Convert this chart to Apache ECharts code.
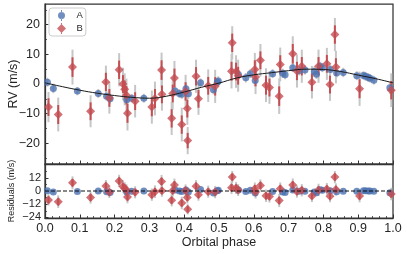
<!DOCTYPE html>
<html><head><meta charset="utf-8">
<script src="https://cdn.jsdelivr.net/npm/echarts@6/dist/echarts.min.js"></script>
<style>html,body{margin:0;padding:0;background:#fff}#c{width:407px;height:254px}</style>
</head><body><div id="c"></div>
<script>
// ---- data ----
const phaseA = [0.007,0.024,0.093,0.153,0.177,0.187,0.235,0.249,0.284,0.374,0.386,0.393,0.405,0.412,0.447,0.484,0.495,0.498,0.556,0.577,0.590,0.604,0.654,0.683,0.690,0.712,0.730,0.747,0.774,0.780,0.791,0.797,0.820,0.838,0.857,0.896,0.915,0.921,0.929,0.934,0.945,0.991];
const rvA    = [0.6,-1.5,-2.4,-3.2,-4.1,-5.0,-5.3,-4.8,-4.8,-2.4,-3.2,-3.5,-1.6,-3.3,0.4,-1.9,0.6,1.0,3.1,2.1,3.5,1.2,3.5,3.6,3.1,5.5,4.5,4.7,4.2,3.3,6.0,5.5,4.9,3.7,3.9,2.8,2.9,2.6,2.2,1.9,1.3,-1.3];
const resA   = [0.3,-1.0,-0.4,0.0,-0.6,-1.3,-1.0,-0.3,-0.1,1.0,-0.1,-0.5,1.0,-0.9,1.3,-1.9,0.3,0.6,1.0,-0.5,0.6,-1.9,-0.5,-0.8,-1.4,0.8,-0.3,-0.3,-0.8,-1.7,1.1,0.6,0.3,-0.6,-0.2,-0.3,0.3,0.2,0.0,-0.1,-0.3,-1.7];
const errA   = [1.5,1.6,1.4,1.5,1.6,1.7,1.5,1.4,1.5,1.6,1.5,1.5,1.6,1.7,1.5,1.6,1.5,1.6,1.5,1.6,1.5,1.8,1.5,1.6,1.5,1.5,1.6,1.5,1.7,1.6,1.5,1.5,1.6,1.5,1.6,1.5,1.4,1.5,1.5,1.4,1.5,2.0];

const phaseB = [0.010,0.038,0.079,0.131,0.175,0.185,0.213,0.224,0.229,0.234,0.237,0.259,0.307,0.316,0.335,0.336,0.364,0.367,0.372,0.393,0.404,0.409,0.410,0.434,0.441,0.469,0.489,0.536,0.538,0.549,0.555,0.603,0.605,0.619,0.635,0.645,0.673,0.676,0.712,0.724,0.738,0.767,0.786,0.810,0.819,0.833,0.836,0.904,0.995];
const rvB    = [-7.8,-10.3,5.7,-9.2,0.7,-4.7,4.8,0.0,-1.8,-3.8,-9.9,-5.8,-7.8,-4.9,4.7,-3.5,-11.6,-3.2,2.0,-13.7,-2.5,-8.3,-19.1,2.6,-5.0,-0.6,-0.8,4.3,13.9,4.2,2.8,4.9,2.4,8.0,-0.4,-1.2,-4.1,6.6,10.2,4.4,6.0,0.6,6.0,6.8,-0.2,16.7,5.7,-1.6,-2.1];
const resB   = [-8.1,-9.7,7.4,-6.0,4.5,-1.1,9.1,4.0,2.6,0.6,-5.4,-1.2,-3.3,-0.6,8.7,0.3,-8.4,0.3,5.5,-10.9,0.4,-5.8,-16.6,4.3,-3.4,-0.6,-1.0,3.0,12.6,2.8,0.9,2.1,-1.0,5.0,-4.3,-5.0,-8.6,2.1,5.5,-0.5,0.7,-4.5,1.0,1.9,-4.7,12.6,1.4,-4.5,-2.7];
const errB   = [5.1,5.7,5.9,5.4,5.5,5.3,5.6,5.5,5.4,5.6,5.8,5.5,5.6,5.7,5.9,5.5,5.6,5.4,5.8,5.7,5.6,5.5,4.6,5.6,5.4,5.5,5.6,5.8,5.6,5.5,5.4,5.6,5.8,5.5,5.7,5.5,6.0,5.7,5.9,5.6,5.6,5.5,5.6,5.4,5.5,5.6,5.5,5.8,5.7];
const errBin = [3.0,3.2,3.3,3.0,3.1,3.0,3.1,3.0,3.0,3.1,3.2,3.0,3.1,3.2,3.3,3.0,3.1,3.0,3.2,3.1,3.1,3.0,2.6,3.1,3.0,3.0,3.1,3.2,3.1,3.0,3.0,3.1,3.2,3.0,3.2,3.0,3.3,3.1,3.3,3.1,3.1,3.0,3.1,3.0,3.0,3.1,3.0,3.2,3.1];

const phaseModel = [0,0.05,0.1,0.15,0.2,0.25,0.3,0.35,0.4,0.45,0.5,0.55,0.6,0.65,0.7,0.75,0.8,0.85,0.9,0.95,1.0];
const rvModel    = [0.4,-0.9,-2.1,-3.1,-3.9,-4.5,-4.8,-4.1,-2.7,-1.1,0.3,2.0,3.1,3.8,4.5,5.0,4.9,4.2,3.0,1.8,0.4];

const zeroPhase = [0, 1];
const zeroRes   = [0, 0];

// axis ranges and tick steps
const rvRange = [-27, 27];
const rvMajor = {min:-20, max:20, step:10};
const rvMinor = {min:-25, max:25, step:5};
const resRange = [-24.5, 24.5];
const resMajor = {min:-24, max:12, step:12};
const resMinor = {min:-24, max:18, step:6};

// ---- layout / styles ----
const FONT = '"Liberation Sans", Arial, sans-serif';
const TXT = '#262626';
const AX = '#333333';
const GRAY = '#c6c6c6';
const BLUE = '#4c72b0';
const RED = '#c44e52';
const LEFT = 45, WIDTH = 348;
const MAIN = {top:4, height:160};
const RES = {top:164, height:54};

function fmtNum(v){ return (v<0?'\u2212':'') + Math.abs(v); }

// a grid box that covers [lo,hi] of a panel whose full range is range
function subBox(panel, range, lo, hi){
  const k = panel.height / (range[1]-range[0]);
  return {top: panel.top + (range[1]-hi)*k, height: (hi-lo)*k};
}

function errSeries(name, xs, ys, es, color, width, xi, yi){
  return {
    type:'custom', name, xAxisIndex:xi, yAxisIndex:yi, silent:true,
    data: xs.map((x,i)=>[x, ys[i], es[i]]),
    encode:{x:0, y:1},
    renderItem(params, api){
      const x=api.value(0), y=api.value(1), e=api.value(2);
      const p1=api.coord([x,y-e]), p2=api.coord([x,y+e]);
      return {type:'line', shape:{x1:p1[0],y1:p1[1],x2:p2[0],y2:p2[1]}, style:{stroke:color, lineWidth:width}};
    }
  };
}

const iconA = 'path://M0,5.5 A3.5,3.5 0 1,0 7,5.5 A3.5,3.5 0 1,0 0,5.5 Z M3,0 L4,0 L4,2.2 L3,2.2 Z M3,8.8 L4,8.8 L4,11 L3,11 Z';
const iconB = 'path://M4.5,1 L9,5.5 L4.5,10 L0,5.5 Z M4,0 L5,0 L5,1.2 L4,1.2 Z M4,9.8 L5,9.8 L5,11 L4,11 Z';

const xBase = {
  type:'value', min:0, max:1, interval:0.1,
  axisLine:{show:true, onZero:false, lineStyle:{color:AX, width:1.25}},
  axisTick:{show:true, inside:true, length:3.5, lineStyle:{color:AX, width:1}},
  minorTick:{show:true, splitNumber:5, length:2, lineStyle:{color:AX, width:0.8}},
  splitLine:{show:false}
};
const gBase = {left:LEFT, width:WIDTH, containLabel:false, outerBoundsMode:'none'};
function tickGrid(box){ return Object.assign({}, gBase, box, {show:false}); }
function hiddenX(gi){ return {type:'value', gridIndex:gi, min:0, max:1, show:false}; }
function tickY(gi, spec, len, labels, fontSize, margin){
  return {type:'value', gridIndex:gi, min:spec.min, max:spec.max, interval:spec.step,
    axisLine:{show:false, onZero:false}, splitLine:{show:false},
    axisTick:{show:true, inside:true, length:len, lineStyle:{color:AX, width:len>3?1:0.8}},
    axisLabel:labels ? {show:true, margin, fontSize, color:TXT, fontFamily:FONT, formatter:fmtNum,
                        showMinLabel:true, showMaxLabel:true, hideOverlap:false}
                     : {show:false}};
}

const chart = echarts.init(document.getElementById('c'), null, {renderer:'canvas'});
chart.setOption({
  animation:false,
  backgroundColor:'#ffffff',
  textStyle:{fontFamily:FONT},
  grid:[
    Object.assign({}, gBase, MAIN, {show:true, borderColor:AX, borderWidth:1.25, backgroundColor:'transparent'}),
    Object.assign({}, gBase, RES, {show:true, borderColor:AX, borderWidth:1.25, backgroundColor:'transparent'}),
    tickGrid(subBox(MAIN, rvRange, rvMajor.min, rvMajor.max)),
    tickGrid(subBox(MAIN, rvRange, rvMinor.min, rvMinor.max)),
    tickGrid(subBox(RES, resRange, resMajor.min, resMajor.max)),
    tickGrid(subBox(RES, resRange, resMinor.min, resMinor.max))
  ],
  xAxis:[
    Object.assign({}, xBase, {gridIndex:0, axisLabel:{show:false}}),
    Object.assign({}, xBase, {gridIndex:1,
      axisLabel:{show:true, margin:4, fontSize:12.5, color:TXT, fontFamily:FONT, formatter:v=>v.toFixed(1)},
      name:'Orbital phase', nameLocation:'middle', nameGap:17,
      nameTextStyle:{fontSize:12.5, color:TXT, fontFamily:FONT}}),
    hiddenX(2), hiddenX(3), hiddenX(4), hiddenX(5)
  ],
  yAxis:[
    {type:'value', gridIndex:0, min:rvRange[0], max:rvRange[1],
     axisLine:{show:true, onZero:false, lineStyle:{color:AX, width:1.25}},
     axisTick:{show:false}, axisLabel:{show:false}, splitLine:{show:false},
     name:'RV (m/s)', nameLocation:'middle', nameGap:25,
     nameTextStyle:{fontSize:12.5, color:TXT, fontFamily:FONT}},
    {type:'value', gridIndex:1, min:resRange[0], max:resRange[1],
     axisLine:{show:true, onZero:false, lineStyle:{color:AX, width:1.25}},
     axisTick:{show:false}, axisLabel:{show:false}, splitLine:{show:false},
     name:'Residuals (m/s)', nameLocation:'middle', nameGap:29,
     nameTextStyle:{fontSize:9, color:TXT, fontFamily:FONT}},
    tickY(2, rvMajor, 3.5, true, 12.5, 5),
    tickY(3, rvMinor, 2, false),
    tickY(4, resMajor, 3.5, true, 11, 4),
    tickY(5, resMinor, 2, false)
  ],
  legend:{
    left:49, top:8, orient:'vertical', selectedMode:false,
    padding:[2,3,2,8], itemGap:2, itemWidth:20, itemHeight:11,
    backgroundColor:'rgba(255,255,255,0.85)', borderColor:'#cccccc', borderWidth:1, borderRadius:3,
    textStyle:{fontFamily:FONT, fontSize:9.5, color:TXT},
    data:[{name:'A', icon:iconA}, {name:'B', icon:iconB}]
  },
  series:[
    // main panel
    errSeries('A err', phaseA, rvA, errA, GRAY, 2, 0, 0),
    errSeries('B err', phaseB, rvB, errB, GRAY, 2, 0, 0),
    {type:'line', name:'model', xAxisIndex:0, yAxisIndex:0, silent:true,
     data: phaseModel.map((x,i)=>[x, rvModel[i]]), smooth:0.4, showSymbol:false, symbol:'none',
     lineStyle:{color:'#1a1a1a', width:1}},
    {type:'scatter', name:'A', xAxisIndex:0, yAxisIndex:0, symbol:'circle', symbolSize:7,
     itemStyle:{color:BLUE}, data: phaseA.map((x,i)=>[x, rvA[i]])},
    errSeries('B inner', phaseB, rvB, errBin, RED, 2, 0, 0),
    {type:'scatter', name:'B', xAxisIndex:0, yAxisIndex:0, symbol:'diamond', symbolSize:9,
     itemStyle:{color:RED}, data: phaseB.map((x,i)=>[x, rvB[i]])},
    // residual panel
    {type:'line', name:'zero', xAxisIndex:1, yAxisIndex:1, silent:true, showSymbol:false, symbol:'none',
     data: zeroPhase.map((x,i)=>[x, zeroRes[i]]),
     lineStyle:{type:[4,2], color:'#111111', width:1}},
    errSeries('A res err', phaseA, resA, errA, GRAY, 2, 1, 1),
    errSeries('B res err', phaseB, resB, errB, GRAY, 2, 1, 1),
    {type:'scatter', name:'A', xAxisIndex:1, yAxisIndex:1, symbol:'circle', symbolSize:7,
     itemStyle:{color:BLUE}, data: phaseA.map((x,i)=>[x, resA[i]])},
    errSeries('B res inner', phaseB, resB, errBin, RED, 2, 1, 1),
    {type:'scatter', name:'B', xAxisIndex:1, yAxisIndex:1, symbol:'diamond', symbolSize:9,
     itemStyle:{color:RED}, data: phaseB.map((x,i)=>[x, resB[i]])}
  ]
});
</script></body></html>
